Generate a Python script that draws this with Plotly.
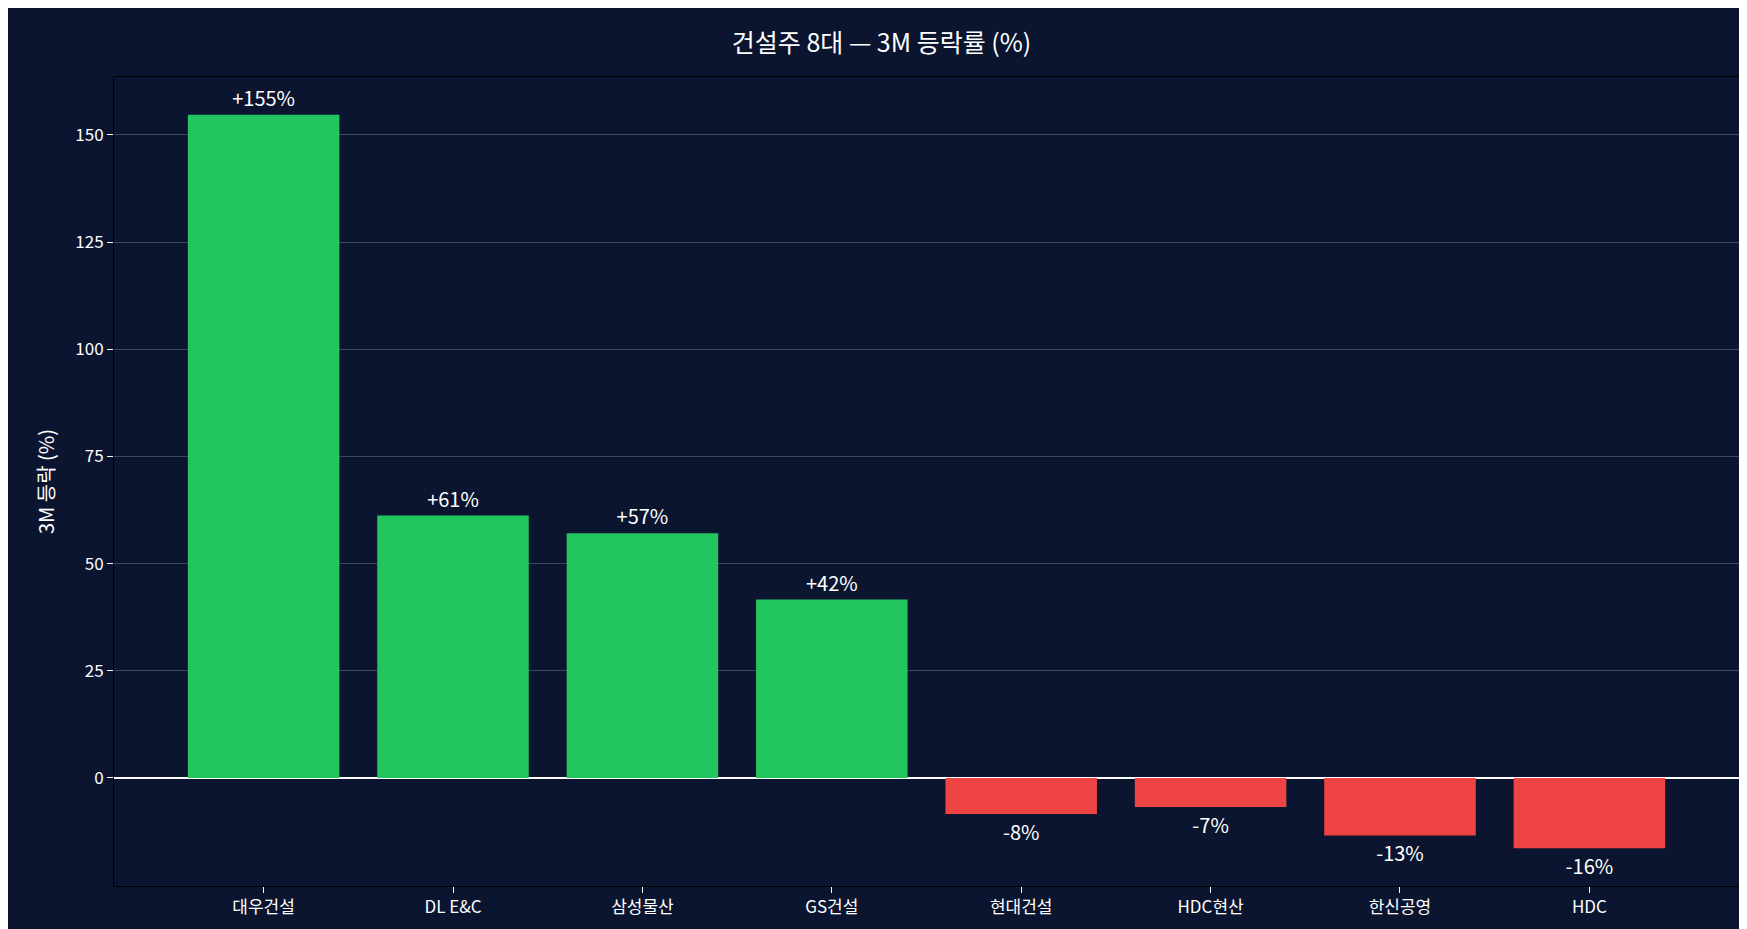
import plotly.graph_objects as go

names = ['대우건설', 'DL E&C', '삼성물산', 'GS건설', '현대건설', 'HDC현산', '한신공영', 'HDC']
chg_3m = [154.7, 61.2, 57.1, 41.6, -8.4, -6.8, -13.4, -16.4]
y_ticks = [0, 25, 50, 75, 100, 125, 150]

bg = '#0b1530'
font = 'Noto Sans CJK KR'
colors = ['#22c55e' if v >= 0 else '#ef4444' for v in chg_3m]
labels = [f"{v:+.0f}%" for v in chg_3m]

fig = go.Figure(go.Bar(
    x=names, y=chg_3m, marker_color=colors, marker_line_width=0,
    text=labels, textposition='outside', cliponaxis=False,
    textfont=dict(color='white', size=20, family=font),
))

fig.update_layout(
    title=dict(text='건설주 8대 — 3M 등락률 (%)', x=0.5, y=0.972, xanchor='center',
               font=dict(color='white', size=25, family=font)),
    paper_bgcolor=bg, plot_bgcolor=bg,
    width=1747, height=929,
    margin=dict(l=106, r=16, t=69, b=51),
    bargap=0.2, showlegend=False,
    font=dict(color='white', family=font, size=17),
)
fig.update_xaxes(range=[-0.79, 7.79], showline=True, linecolor='black', mirror=True,
                 ticks='outside', tickcolor='white', ticklen=6, showgrid=False)
fig.update_yaxes(range=[-25.2, 163.5], tickvals=y_ticks, showline=True, linecolor='black', mirror=True,
                 ticks='outside', tickcolor='white', ticklen=6,
                 gridcolor='rgba(255,255,255,0.22)', zeroline=True, zerolinecolor='white',
                 zerolinewidth=1.5, title=dict(text='3M 등락 (%)', font=dict(size=20)))

fig.write_html("out.html")
